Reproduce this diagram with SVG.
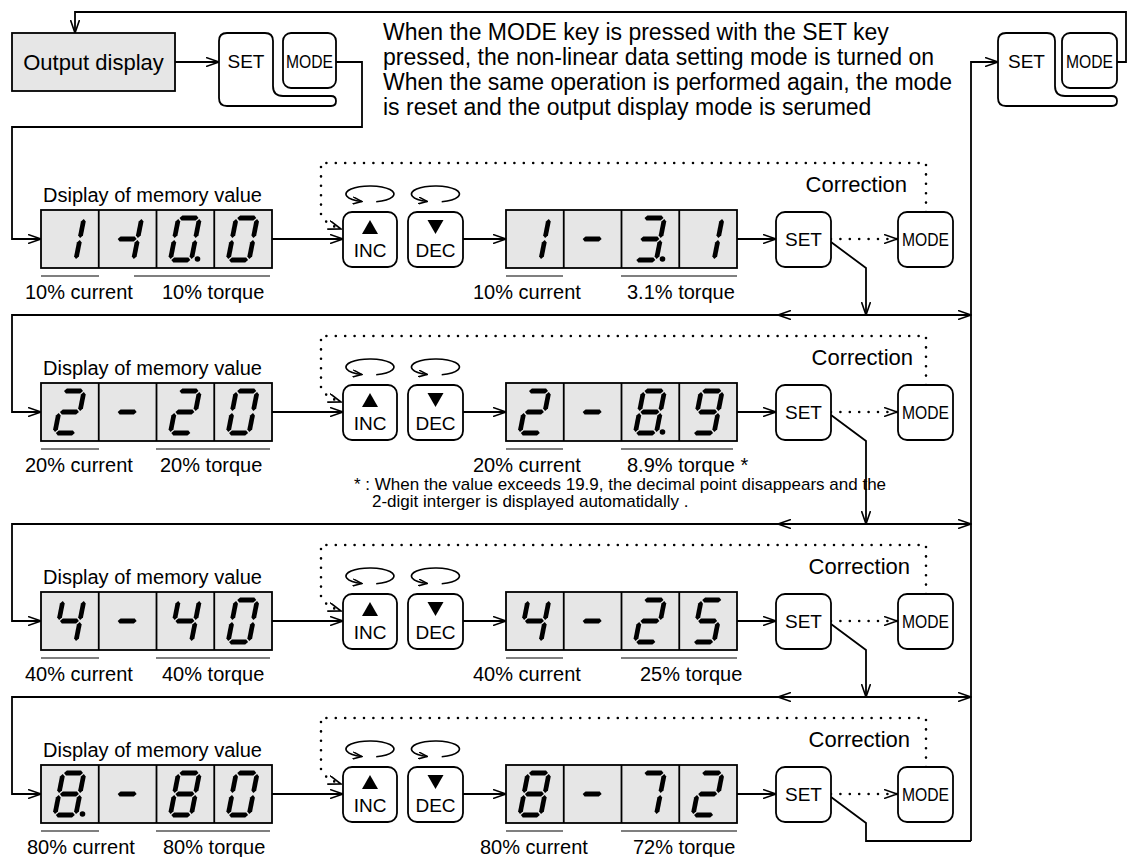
<svg xmlns="http://www.w3.org/2000/svg" xmlns:xlink="http://www.w3.org/1999/xlink" width="1130" height="857" viewBox="0 0 1130 857">
<style>
.ln{fill:none;stroke:#000;stroke-width:1.8}
.dt{fill:none;stroke:#000;stroke-width:2.6;stroke-linecap:round;stroke-dasharray:0 9.4}
.disp{fill:#e6e6e6;stroke:#000;stroke-width:1.8}
.key{fill:#fff;stroke:#000;stroke-width:1.8}
.div{stroke:#000;stroke-width:1.8}
.ul{stroke:#000;stroke-width:1.2}
.rot{fill:none;stroke:#000;stroke-width:1.6}
text{font-family:"Liberation Sans",Arial,sans-serif;fill:#000}
.t23{font-size:23px}
.t20{font-size:20px}
.t19{font-size:19px}
.t22{font-size:22px}
.fn{font-size:17px}
.mid{text-anchor:middle}
.end{text-anchor:end}
</style>
<defs>
<marker id="ar" viewBox="0 0 14 10" refX="13" refY="5" markerWidth="14" markerHeight="10" markerUnits="userSpaceOnUse" orient="auto">
<path d="M0,0.5 L13,5 L0,9.5" fill="none" stroke="#000" stroke-width="1.6"/>
</marker>
<marker id="ars" viewBox="0 0 10 8" refX="9" refY="4" markerWidth="10" markerHeight="8" markerUnits="userSpaceOnUse" orient="auto">
<path d="M0,0.5 L9,4 L0,7.5" fill="none" stroke="#000" stroke-width="1.5"/>
</marker>
<polygon id="sa" points="1,0 3.4,-2.4 17.6,-2.4 20,0 17.6,2.4 3.4,2.4"/>
<polygon id="sg" points="1,21 3.4,18.6 17.6,18.6 20,21 17.6,23.4 3.4,23.4"/>
<polygon id="sd" points="1,42 3.4,39.6 17.6,39.6 20,42 17.6,44.4 3.4,44.4"/>
<polygon id="sf" points="0,1 2.4,3.4 2.4,17.6 0,20 -2.4,17.6 -2.4,3.4"/>
<polygon id="se" points="0,22 2.4,24.4 2.4,38.6 0,41 -2.4,38.6 -2.4,24.4"/>
<polygon id="sb" points="21,1 23.4,3.4 23.4,17.6 21,20 18.6,17.6 18.6,3.4"/>
<polygon id="sc" points="21,22 23.4,24.4 23.4,38.6 21,41 18.6,38.6 18.6,24.4"/>
<g id="n0"><use href="#sa"/><use href="#sb"/><use href="#sc"/><use href="#sd"/><use href="#se"/><use href="#sf"/></g>
<g id="n1"><use href="#sb"/><use href="#sc"/></g>
<g id="n2"><use href="#sa"/><use href="#sb"/><use href="#sg"/><use href="#se"/><use href="#sd"/></g>
<g id="n3"><use href="#sa"/><use href="#sb"/><use href="#sg"/><use href="#sc"/><use href="#sd"/></g>
<g id="n4"><use href="#sf"/><use href="#sg"/><use href="#sb"/><use href="#sc"/></g>
<g id="n5"><use href="#sa"/><use href="#sf"/><use href="#sg"/><use href="#sc"/><use href="#sd"/></g>
<g id="n7"><use href="#sa"/><use href="#sb"/><use href="#sc"/></g>
<g id="n8"><use href="#sa"/><use href="#sb"/><use href="#sc"/><use href="#sd"/><use href="#se"/><use href="#sf"/><use href="#sg"/></g>
<g id="n9"><use href="#sa"/><use href="#sb"/><use href="#sc"/><use href="#sd"/><use href="#sf"/><use href="#sg"/></g>
<g id="nm"><use href="#sg"/></g>
<g id="nm1"><use href="#sg"/><use href="#sb"/><use href="#sc"/></g>
<path id="rotI" class="rot" d="M376.2,201.7 A24,8 0 1 0 361.8,201.5" marker-end="url(#ars)"/>
</defs>

<g id="connectors">
<path class="ln" d="M1117,62 H1126 V12 H75 V33" marker-end="url(#ar)"/>
<path class="ln" d="M175,62 H219" marker-end="url(#ar)"/>
<path class="ln" d="M336,62 H362 V127 H12 V239 H41" marker-end="url(#ar)"/>
<path class="ln" d="M971,841 V62 H998" marker-end="url(#ar)"/>
<path class="ln" d="M272,239 H343" marker-end="url(#ar)"/>
<path class="ln" d="M463,239 H506" marker-end="url(#ar)"/>
<path class="ln" d="M737,239 H776" marker-end="url(#ar)"/>
<path class="ln" d="M831,242 L866,268 V315" marker-end="url(#ar)"/>
<path class="ln" d="M866,315 H778" marker-end="url(#ar)"/>
<path class="ln" d="M866,315 H971" marker-end="url(#ar)"/>
<path class="ln" d="M778,315 H12 V412 H41" marker-end="url(#ar)"/>
<path class="dt" d="M926,212 V163 H321 V214 Q323,223 341,229" marker-end="url(#ar)"/>
<path class="dt" d="M831,239 H897" marker-end="url(#ar)"/>
<path class="ln" d="M272,412 H343" marker-end="url(#ar)"/>
<path class="ln" d="M463,412 H506" marker-end="url(#ar)"/>
<path class="ln" d="M737,412 H776" marker-end="url(#ar)"/>
<path class="ln" d="M831,415 L866,441 V524" marker-end="url(#ar)"/>
<path class="ln" d="M866,524 H778" marker-end="url(#ar)"/>
<path class="ln" d="M866,524 H971" marker-end="url(#ar)"/>
<path class="ln" d="M778,524 H12 V621 H41" marker-end="url(#ar)"/>
<path class="dt" d="M926,385 V336 H321 V387 Q323,396 341,402" marker-end="url(#ar)"/>
<path class="dt" d="M831,412 H897" marker-end="url(#ar)"/>
<path class="ln" d="M272,621 H343" marker-end="url(#ar)"/>
<path class="ln" d="M463,621 H506" marker-end="url(#ar)"/>
<path class="ln" d="M737,621 H776" marker-end="url(#ar)"/>
<path class="ln" d="M831,624 L866,650 V697" marker-end="url(#ar)"/>
<path class="ln" d="M866,697 H778" marker-end="url(#ar)"/>
<path class="ln" d="M866,697 H971" marker-end="url(#ar)"/>
<path class="ln" d="M778,697 H12 V794 H41" marker-end="url(#ar)"/>
<path class="dt" d="M926,594 V545 H321 V596 Q323,605 341,611" marker-end="url(#ar)"/>
<path class="dt" d="M831,621 H897" marker-end="url(#ar)"/>
<path class="ln" d="M272,794 H343" marker-end="url(#ar)"/>
<path class="ln" d="M463,794 H506" marker-end="url(#ar)"/>
<path class="ln" d="M737,794 H776" marker-end="url(#ar)"/>
<path class="ln" d="M831,797 L866,823 V841 H971"/>
<path class="dt" d="M926,767 V718 H321 V769 Q323,778 341,784" marker-end="url(#ar)"/>
<path class="dt" d="M831,794 H897" marker-end="url(#ar)"/>
<use href="#rotI"/>
<use href="#rotI" transform="translate(65.5,0)"/>
<use href="#rotI" transform="translate(0,173)"/>
<use href="#rotI" transform="translate(65.5,173)"/>
<use href="#rotI" transform="translate(0,382)"/>
<use href="#rotI" transform="translate(65.5,382)"/>
<use href="#rotI" transform="translate(0,555)"/>
<use href="#rotI" transform="translate(65.5,555)"/>
</g>

<g id="output-display">
<rect class="disp" x="12" y="33" width="163" height="58"/>
<text class="t22 mid" x="93.5" y="70">Output display</text>
</g>
<g id="setmode-top-left">
<path class="key" d="M227,33 H265 Q273,33 273,41 V86 Q273,96 283,96 H331 Q336,96 336,101 Q336,106 331,106 H227 Q219,106 219,98 V41 Q219,33 227,33 Z"/>
<rect class="key" x="283" y="33" width="53" height="55" rx="8"/>
<text class="t19 mid" x="246" y="68">SET</text>
<text class="t19 mid" x="309.5" y="68" textLength="47" lengthAdjust="spacingAndGlyphs">MODE</text>
</g>
<g id="setmode-top-right">
<path class="key" d="M1006,33 H1047 Q1055,33 1055,41 V86 Q1055,96 1065,96 H1112 Q1117,96 1117,101 Q1117,106 1112,106 H1006 Q998,106 998,98 V41 Q998,33 1006,33 Z"/>
<rect class="key" x="1062" y="33" width="55" height="55" rx="8"/>
<text class="t19 mid" x="1026.5" y="68">SET</text>
<text class="t19 mid" x="1089.5" y="68" textLength="47" lengthAdjust="spacingAndGlyphs">MODE</text>
</g>
<g id="note">
<text class="t23" x="383" y="40">When the MODE key is pressed with the SET key</text>
<text class="t23" x="383" y="65">pressed, the non-linear data setting mode is turned on</text>
<text class="t23" x="383" y="90">When the same operation is performed again, the mode</text>
<text class="t23" x="383" y="115">is reset and the output display mode is serumed</text>
</g>

<g id="row1-memory">
<text class="t20" x="43" y="202">Dsiplay of memory value</text>
<rect class="disp" x="41" y="210" width="231" height="58"/>
<path class="div" d="M98.75,210 V268 M156.5,210 V268 M214.25,210 V268"/>
<use href="#n1" transform="translate(63,218) skewX(-11)"/>
<use href="#nm1" transform="translate(120.75,218) skewX(-11)"/>
<use href="#n0" transform="translate(178.5,218) skewX(-11)"/>
<circle cx="197.5" cy="259" r="2.8"/>
<use href="#n0" transform="translate(236.25,218) skewX(-11)"/>
<path class="ul" d="M41,276 H99 M134,276 H270"/>
<text class="t20" x="25" y="299">10% current</text>
<text class="t20" x="162" y="299">10% torque</text>
</g>
<g id="row1-inc">
<rect class="key" x="343" y="212" width="54" height="55" rx="9"/>
<path d="M362,234 L370,220 L378,234 Z"/>
<text class="t19 mid" x="370" y="257">INC</text>
</g>
<g id="row1-dec">
<rect class="key" x="408" y="212" width="55" height="55" rx="9"/>
<path d="M427.5,220 L443.5,220 L435.5,234 Z"/>
<text class="t19 mid" x="435.5" y="257">DEC</text>
</g>
<g id="row1-corrected">
<rect class="disp" x="506" y="210" width="231" height="58"/>
<path class="div" d="M563.75,210 V268 M621.5,210 V268 M679.25,210 V268"/>
<use href="#n1" transform="translate(528,218) skewX(-11)"/>
<use href="#nm" transform="translate(585.75,218) skewX(-11)"/>
<use href="#n3" transform="translate(643.5,218) skewX(-11)"/>
<circle cx="662.5" cy="259" r="2.8"/>
<use href="#n1" transform="translate(701.25,218) skewX(-11)"/>
<path class="ul" d="M506,276 H563 M621,276 H737"/>
<text class="t20" x="473" y="299">10% current</text>
<text class="t20" x="627" y="299">3.1% torque</text>
</g>
<g id="row1-set">
<rect class="key" x="776" y="212" width="55" height="55" rx="9"/>
<text class="t19 mid" x="803.5" y="246">SET</text>
</g>
<g id="row1-mode">
<text class="t22 end" x="907" y="192">Correction</text>
<rect class="key" x="898" y="212" width="55" height="55" rx="9"/>
<text class="t19 mid" x="925.5" y="246" textLength="47" lengthAdjust="spacingAndGlyphs">MODE</text>
</g>

<g id="row2-memory">
<text class="t20" x="43" y="375">Display of memory value</text>
<rect class="disp" x="41" y="383" width="231" height="58"/>
<path class="div" d="M98.75,383 V441 M156.5,383 V441 M214.25,383 V441"/>
<use href="#n2" transform="translate(63,391) skewX(-11)"/>
<use href="#nm" transform="translate(120.75,391) skewX(-11)"/>
<use href="#n2" transform="translate(178.5,391) skewX(-11)"/>
<use href="#n0" transform="translate(236.25,391) skewX(-11)"/>
<path class="ul" d="M41,449 H99 M156,449 H270"/>
<text class="t20" x="25" y="472">20% current</text>
<text class="t20" x="160" y="472">20% torque</text>
</g>
<g id="row2-inc">
<rect class="key" x="343" y="385" width="54" height="55" rx="9"/>
<path d="M362,407 L370,393 L378,407 Z"/>
<text class="t19 mid" x="370" y="430">INC</text>
</g>
<g id="row2-dec">
<rect class="key" x="408" y="385" width="55" height="55" rx="9"/>
<path d="M427.5,393 L443.5,393 L435.5,407 Z"/>
<text class="t19 mid" x="435.5" y="430">DEC</text>
</g>
<g id="row2-corrected">
<rect class="disp" x="506" y="383" width="231" height="58"/>
<path class="div" d="M563.75,383 V441 M621.5,383 V441 M679.25,383 V441"/>
<use href="#n2" transform="translate(528,391) skewX(-11)"/>
<use href="#nm" transform="translate(585.75,391) skewX(-11)"/>
<use href="#n8" transform="translate(643.5,391) skewX(-11)"/>
<circle cx="662.5" cy="432" r="2.8"/>
<use href="#n9" transform="translate(701.25,391) skewX(-11)"/>
<path class="ul" d="M506,449 H563 M621,449 H733"/>
<text class="t20" x="473" y="472">20% current</text>
<text class="t20" x="627" y="472">8.9% torque *</text>
<text class="fn" x="354" y="490">* : When the value exceeds 19.9, the decimal point disappears and the</text>
<text class="fn" x="372" y="507">2-digit interger is displayed automatidally .</text>
</g>
<g id="row2-set">
<rect class="key" x="776" y="385" width="55" height="55" rx="9"/>
<text class="t19 mid" x="803.5" y="419">SET</text>
</g>
<g id="row2-mode">
<text class="t22 end" x="913" y="365">Correction</text>
<rect class="key" x="898" y="385" width="55" height="55" rx="9"/>
<text class="t19 mid" x="925.5" y="419" textLength="47" lengthAdjust="spacingAndGlyphs">MODE</text>
</g>

<g id="row3-memory">
<text class="t20" x="43" y="584">Display of memory value</text>
<rect class="disp" x="41" y="592" width="231" height="58"/>
<path class="div" d="M98.75,592 V650 M156.5,592 V650 M214.25,592 V650"/>
<use href="#n4" transform="translate(63,600) skewX(-11)"/>
<use href="#nm" transform="translate(120.75,600) skewX(-11)"/>
<use href="#n4" transform="translate(178.5,600) skewX(-11)"/>
<use href="#n0" transform="translate(236.25,600) skewX(-11)"/>
<path class="ul" d="M41,658 H99 M156,658 H270"/>
<text class="t20" x="25" y="681">40% current</text>
<text class="t20" x="162" y="681">40% torque</text>
</g>
<g id="row3-inc">
<rect class="key" x="343" y="594" width="54" height="55" rx="9"/>
<path d="M362,616 L370,602 L378,616 Z"/>
<text class="t19 mid" x="370" y="639">INC</text>
</g>
<g id="row3-dec">
<rect class="key" x="408" y="594" width="55" height="55" rx="9"/>
<path d="M427.5,602 L443.5,602 L435.5,616 Z"/>
<text class="t19 mid" x="435.5" y="639">DEC</text>
</g>
<g id="row3-corrected">
<rect class="disp" x="506" y="592" width="231" height="58"/>
<path class="div" d="M563.75,592 V650 M621.5,592 V650 M679.25,592 V650"/>
<use href="#n4" transform="translate(528,600) skewX(-11)"/>
<use href="#nm" transform="translate(585.75,600) skewX(-11)"/>
<use href="#n2" transform="translate(643.5,600) skewX(-11)"/>
<use href="#n5" transform="translate(701.25,600) skewX(-11)"/>
<path class="ul" d="M506,658 H563 M621,658 H737"/>
<text class="t20" x="473" y="681">40% current</text>
<text class="t20" x="640" y="681">25% torque</text>
</g>
<g id="row3-set">
<rect class="key" x="776" y="594" width="55" height="55" rx="9"/>
<text class="t19 mid" x="803.5" y="628">SET</text>
</g>
<g id="row3-mode">
<text class="t22 end" x="910" y="574">Correction</text>
<rect class="key" x="898" y="594" width="55" height="55" rx="9"/>
<text class="t19 mid" x="925.5" y="628" textLength="47" lengthAdjust="spacingAndGlyphs">MODE</text>
</g>

<g id="row4-memory">
<text class="t20" x="43" y="757">Display of memory value</text>
<rect class="disp" x="41" y="765" width="231" height="58"/>
<path class="div" d="M98.75,765 V823 M156.5,765 V823 M214.25,765 V823"/>
<use href="#n8" transform="translate(63,773) skewX(-11)"/>
<circle cx="82.5" cy="814" r="2.8"/>
<use href="#nm" transform="translate(120.75,773) skewX(-11)"/>
<use href="#n8" transform="translate(178.5,773) skewX(-11)"/>
<use href="#n0" transform="translate(236.25,773) skewX(-11)"/>
<path class="ul" d="M41,831 H99 M156,831 H270"/>
<text class="t20" x="27" y="854">80% current</text>
<text class="t20" x="163" y="854">80% torque</text>
</g>
<g id="row4-inc">
<rect class="key" x="343" y="767" width="54" height="55" rx="9"/>
<path d="M362,789 L370,775 L378,789 Z"/>
<text class="t19 mid" x="370" y="812">INC</text>
</g>
<g id="row4-dec">
<rect class="key" x="408" y="767" width="55" height="55" rx="9"/>
<path d="M427.5,775 L443.5,775 L435.5,789 Z"/>
<text class="t19 mid" x="435.5" y="812">DEC</text>
</g>
<g id="row4-corrected">
<rect class="disp" x="506" y="765" width="231" height="58"/>
<path class="div" d="M563.75,765 V823 M621.5,765 V823 M679.25,765 V823"/>
<use href="#n8" transform="translate(528,773) skewX(-11)"/>
<use href="#nm" transform="translate(585.75,773) skewX(-11)"/>
<use href="#n7" transform="translate(643.5,773) skewX(-11)"/>
<use href="#n2" transform="translate(701.25,773) skewX(-11)"/>
<path class="ul" d="M506,831 H563 M621,831 H737"/>
<text class="t20" x="480" y="854">80% current</text>
<text class="t20" x="633" y="854">72% torque</text>
</g>
<g id="row4-set">
<rect class="key" x="776" y="767" width="55" height="55" rx="9"/>
<text class="t19 mid" x="803.5" y="801">SET</text>
</g>
<g id="row4-mode">
<text class="t22 end" x="910" y="747">Correction</text>
<rect class="key" x="898" y="767" width="55" height="55" rx="9"/>
<text class="t19 mid" x="925.5" y="801" textLength="47" lengthAdjust="spacingAndGlyphs">MODE</text>
</g>
</svg>
